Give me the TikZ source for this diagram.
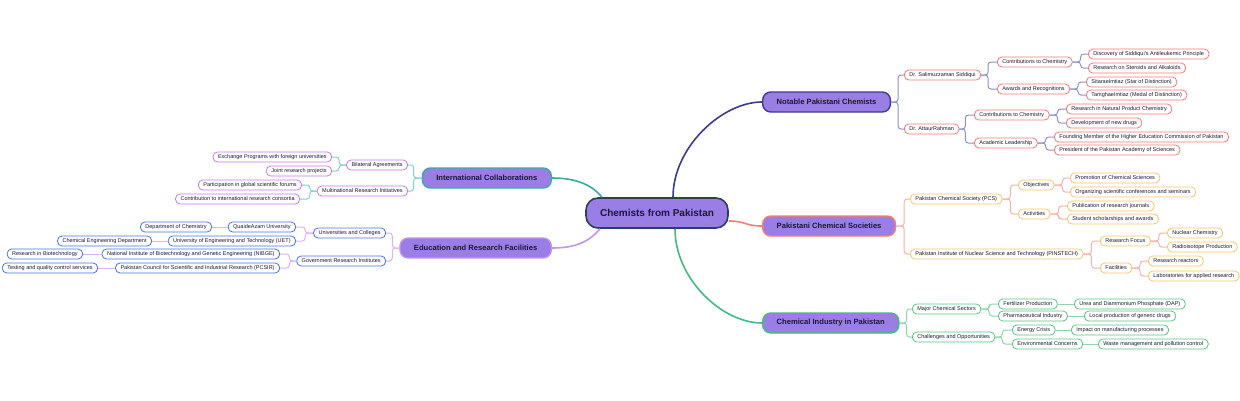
\documentclass[tikz,border=0pt]{standalone}
\usepackage{fontspec}
\setmainfont{Liberation Sans}
\definecolor{nodefill}{HTML}{9B7DE6}
\definecolor{rootline}{HTML}{2C3E5A}
\definecolor{textdark}{HTML}{1A1A2E}
\definecolor{navyline}{HTML}{3C3C8C}
\definecolor{navysoft}{HTML}{9090C8}
\definecolor{redleaf}{HTML}{F47A78}
\definecolor{salmonline}{HTML}{F77D73}
\definecolor{salmonsoft}{HTML}{F8B0A8}
\definecolor{yellowleaf}{HTML}{F9C56A}
\definecolor{greenline}{HTML}{44BB7F}
\definecolor{greensoft}{HTML}{8FD6AB}
\definecolor{greenleaf}{HTML}{5CC487}
\definecolor{tealline}{HTML}{38ABA5}
\definecolor{tealsoft}{HTML}{7FD3CB}
\definecolor{purpleleaf}{HTML}{C47AEE}
\definecolor{lavline}{HTML}{C595E6}
\definecolor{lavsoft}{HTML}{D9B4F2}
\definecolor{blueleaf}{HTML}{4C74E6}
\begin{document}
\begin{tikzpicture}[x=1pt,y=-1pt,
	root/.style={draw=rootline,fill=nodefill,line width=1.6pt,rounded corners=12pt,minimum height=30pt,inner xsep=14pt,font=\fontsize{10}{11}\selectfont\bfseries,text=textdark},
	topic/.style={draw=#1,fill=nodefill,line width=1.4pt,rounded corners=8pt,minimum height=20pt,inner xsep=14pt,font=\fontsize{7.6}{8.6}\selectfont\bfseries,text=textdark},
	leaf/.style={draw=#1,fill=white,line width=0.8pt,rounded corners=4.5pt,minimum height=10pt,inner xsep=5pt,inner ysep=1pt,font=\fontsize{5.5}{6.5}\selectfont,text=textdark},
	link/.style={draw=#1,line width=1pt,rounded corners=3pt},
	spoke/.style={draw=#1,line width=1.6pt}]
		\useasboundingbox (0,0) rectangle (1240,400);
		\node[root] (root) at (657,213) {Chemists from Pakistan};
		% right side
		\node[topic=navyline,anchor=west] (n1) at (762,102) {Notable Pakistani Chemists};
		\node[leaf=redleaf,anchor=west] (n1a) at (904,75) {Dr. Salimuzzaman Siddiqui};
		\node[leaf=redleaf,anchor=west] (n1a1) at (997,62) {Contributions to Chemistry};
		\node[leaf=redleaf,anchor=west] (n1a1a) at (1088,54) {Discovery of Siddiqui's Antileukemic Principle};
		\node[leaf=redleaf,anchor=west] (n1a1b) at (1088,68) {Research on Steroids and Alkaloids};
		\node[leaf=redleaf,anchor=west] (n1a2) at (997,89) {Awards and Recognitions};
		\node[leaf=redleaf,anchor=west] (n1a2a) at (1086,82) {SitaraeImtiaz (Star of Distinction)};
		\node[leaf=redleaf,anchor=west] (n1a2b) at (1086,95) {TamghaeImtiaz (Medal of Distinction)};
		\node[leaf=redleaf,anchor=west] (n1b) at (904,129) {Dr. AttaurRahman};
		\node[leaf=redleaf,anchor=west] (n1b1) at (974,115) {Contributions to Chemistry};
		\node[leaf=redleaf,anchor=west] (n1b1a) at (1066,109) {Research in Natural Product Chemistry};
		\node[leaf=redleaf,anchor=west] (n1b1b) at (1066,123) {Development of new drugs};
		\node[leaf=redleaf,anchor=west] (n1b2) at (974,143) {Academic Leadership};
		\node[leaf=redleaf,anchor=west] (n1b2a) at (1054,137) {Founding Member of the Higher Education Commission of Pakistan};
		\node[leaf=redleaf,anchor=west] (n1b2b) at (1054,150) {President of the Pakistan Academy of Sciences};
		\node[topic=salmonline,anchor=west] (n2) at (762,226) {Pakistani Chemical Societies};
		\node[leaf=yellowleaf,anchor=west] (n2a) at (910,199) {Pakistan Chemical Society (PCS)};
		\node[leaf=yellowleaf,anchor=west] (n2a1) at (1018,185) {Objectives};
		\node[leaf=yellowleaf,anchor=west] (n2a1a) at (1070,178) {Promotion of Chemical Sciences};
		\node[leaf=yellowleaf,anchor=west] (n2a1b) at (1070,192) {Organizing scientific conferences and seminars};
		\node[leaf=yellowleaf,anchor=west] (n2a2) at (1018,214) {Activities};
		\node[leaf=yellowleaf,anchor=west] (n2a2a) at (1067,206) {Publication of research journals};
		\node[leaf=yellowleaf,anchor=west] (n2a2b) at (1067,219) {Student scholarships and awards};
		\node[leaf=yellowleaf,anchor=west] (n2b) at (910,254) {Pakistan Institute of Nuclear Science and Technology (PINSTECH)};
		\node[leaf=yellowleaf,anchor=west] (n2b1) at (1100,241) {Research Focus};
		\node[leaf=yellowleaf,anchor=west] (n2b1a) at (1167,233) {Nuclear Chemistry};
		\node[leaf=yellowleaf,anchor=west] (n2b1b) at (1167,247) {Radioisotope Production};
		\node[leaf=yellowleaf,anchor=west] (n2b2) at (1100,268) {Facilities};
		\node[leaf=yellowleaf,anchor=west] (n2b2a) at (1148,261) {Research reactors};
		\node[leaf=yellowleaf,anchor=west] (n2b2b) at (1148,276) {Laboratories for applied research};
		\node[topic=greenline,anchor=west] (n3) at (762,323) {Chemical Industry in Pakistan};
		\node[leaf=greenleaf,anchor=west] (n3a) at (912,309) {Major Chemical Sectors};
		\node[leaf=greenleaf,anchor=west] (n3a1) at (998,304) {Fertilizer Production};
		\node[leaf=greenleaf,anchor=west] (n3a1a) at (1074,304) {Urea and Diammonium Phosphate (DAP)};
		\node[leaf=greenleaf,anchor=west] (n3a2) at (998,316) {Pharmaceutical Industry};
		\node[leaf=greenleaf,anchor=west] (n3a2a) at (1084,316) {Local production of generic drugs};
		\node[leaf=greenleaf,anchor=west] (n3b) at (912,337) {Challenges and Opportunities};
		\node[leaf=greenleaf,anchor=west] (n3b1) at (1012,330) {Energy Crisis};
		\node[leaf=greenleaf,anchor=west] (n3b1a) at (1071,330) {Impact on manufacturing processes};
		\node[leaf=greenleaf,anchor=west] (n3b2) at (1012,344) {Environmental Concerns};
		\node[leaf=greenleaf,anchor=west] (n3b2a) at (1098,344) {Waste management and pollution control};
		% left side
		\node[topic=tealline,anchor=east] (n4) at (552,178) {International Collaborations};
		\node[leaf=purpleleaf,anchor=east] (n4a) at (408,165) {Bilateral Agreements};
		\node[leaf=purpleleaf,anchor=east] (n4a1) at (332,157) {Exchange Programs with foreign universities};
		\node[leaf=purpleleaf,anchor=east] (n4a2) at (332,171) {Joint research projects};
		\node[leaf=purpleleaf,anchor=east] (n4b) at (408,191) {Multinational Research Initiatives};
		\node[leaf=purpleleaf,anchor=east] (n4b1) at (302,185) {Participation in global scientific forums};
		\node[leaf=purpleleaf,anchor=east] (n4b2) at (300,199) {Contribution to international research consortia};
		\node[topic=lavline,anchor=east] (n5) at (552,248) {Education and Research Facilities};
		\node[leaf=blueleaf,anchor=east] (n5a) at (386,233) {Universities and Colleges};
		\node[leaf=blueleaf,anchor=east] (n5a1) at (296,227) {QuaideAzam University};
		\node[leaf=blueleaf,anchor=east] (n5a1a) at (212,227) {Department of Chemistry};
		\node[leaf=blueleaf,anchor=east] (n5a2) at (296,241) {University of Engineering and Technology (UET)};
		\node[leaf=blueleaf,anchor=east] (n5a2a) at (152,241) {Chemical Engineering Department};
		\node[leaf=blueleaf,anchor=east] (n5b) at (386,261) {Government Research Institutes};
		\node[leaf=blueleaf,anchor=east] (n5b1) at (280,254) {National Institute of Biotechnology and Genetic Engineering (NIBGE)};
		\node[leaf=blueleaf,anchor=east] (n5b1a) at (83,254) {Research in Biotechnology};
		\node[leaf=blueleaf,anchor=east] (n5b2) at (280,268) {Pakistan Council for Scientific and Industrial Research (PCSIR)};
		\node[leaf=blueleaf,anchor=east] (n5b2a) at (98,268) {Testing and quality control services};
		% spokes
		\draw[spoke=navyline] ([xshift=16pt]root.north) .. controls +(0,-50) and +(-40,0) .. (n1.west);
		\draw[spoke=salmonline] ([yshift=-8pt]root.east) .. controls +(17,0) and +(-17,0) .. (n2.west);
		\draw[spoke=greenline] ([xshift=18pt]root.south) .. controls +(0,50) and +(-40,0) .. (n3.west);
		\draw[spoke=tealline] ([xshift=-55pt]root.north) .. controls +(-10,-12) and +(25,0) .. (n4.east);
		\draw[spoke=lavline] ([xshift=-57pt]root.south) .. controls +(-10,12) and +(25,0) .. (n5.east);
		% branches
		\draw[link=navysoft] (n1.east) -- ++(7,0) |- (n1a.west);
		\draw[link=navysoft] (n1.east) -- ++(7,0) |- (n1b.west);
		\draw[link=navysoft] (n1a.east) -- ++(7,0) |- (n1a1.west);
		\draw[link=navysoft] (n1a.east) -- ++(7,0) |- (n1a2.west);
		\draw[link=navysoft] (n1a1.east) -- ++(8,0) |- (n1a1a.west);
		\draw[link=navysoft] (n1a1.east) -- ++(8,0) |- (n1a1b.west);
		\draw[link=navysoft] (n1a2.east) -- ++(8,0) |- (n1a2a.west);
		\draw[link=navysoft] (n1a2.east) -- ++(8,0) |- (n1a2b.west);
		\draw[link=navysoft] (n1b.east) -- ++(6,0) |- (n1b1.west);
		\draw[link=navysoft] (n1b.east) -- ++(6,0) |- (n1b2.west);
		\draw[link=navysoft] (n1b1.east) -- ++(8,0) |- (n1b1a.west);
		\draw[link=navysoft] (n1b1.east) -- ++(8,0) |- (n1b1b.west);
		\draw[link=navysoft] (n1b2.east) -- ++(8,0) |- (n1b2a.west);
		\draw[link=navysoft] (n1b2.east) -- ++(8,0) |- (n1b2b.west);
		\draw[link=salmonsoft] (n2.east) -- ++(8,0) |- (n2a.west);
		\draw[link=salmonsoft] (n2.east) -- ++(8,0) |- (n2b.west);
		\draw[link=salmonsoft] (n2a.east) -- ++(8,0) |- (n2a1.west);
		\draw[link=salmonsoft] (n2a.east) -- ++(8,0) |- (n2a2.west);
		\draw[link=salmonsoft] (n2a1.east) -- ++(8,0) |- (n2a1a.west);
		\draw[link=salmonsoft] (n2a1.east) -- ++(8,0) |- (n2a1b.west);
		\draw[link=salmonsoft] (n2a2.east) -- ++(8,0) |- (n2a2a.west);
		\draw[link=salmonsoft] (n2a2.east) -- ++(8,0) |- (n2a2b.west);
		\draw[link=salmonsoft] (n2b.east) -- ++(8,0) |- (n2b1.west);
		\draw[link=salmonsoft] (n2b.east) -- ++(8,0) |- (n2b2.west);
		\draw[link=salmonsoft] (n2b1.east) -- ++(8,0) |- (n2b1a.west);
		\draw[link=salmonsoft] (n2b1.east) -- ++(8,0) |- (n2b1b.west);
		\draw[link=salmonsoft] (n2b2.east) -- ++(8,0) |- (n2b2a.west);
		\draw[link=salmonsoft] (n2b2.east) -- ++(8,0) |- (n2b2b.west);
		\draw[link=greensoft] (n3.east) -- ++(7,0) |- (n3a.west);
		\draw[link=greensoft] (n3.east) -- ++(7,0) |- (n3b.west);
		\draw[link=greensoft] (n3a.east) -- ++(8,0) |- (n3a1.west);
		\draw[link=greensoft] (n3a.east) -- ++(8,0) |- (n3a2.west);
		\draw[link=greensoft] (n3a1.east) -- (n3a1a.west);
		\draw[link=greensoft] (n3a2.east) -- (n3a2a.west);
		\draw[link=greensoft] (n3b.east) -- ++(7,0) |- (n3b1.west);
		\draw[link=greensoft] (n3b.east) -- ++(7,0) |- (n3b2.west);
		\draw[link=greensoft] (n3b1.east) -- (n3b1a.west);
		\draw[link=greensoft] (n3b2.east) -- (n3b2a.west);
		\draw[link=tealsoft] (n4.west) -- ++(-8,0) |- (n4a.east);
		\draw[link=tealsoft] (n4.west) -- ++(-8,0) |- (n4b.east);
		\draw[link=tealsoft] (n4a.west) -- ++(-7,0) |- (n4a1.east);
		\draw[link=tealsoft] (n4a.west) -- ++(-7,0) |- (n4a2.east);
		\draw[link=tealsoft] (n4b.west) -- ++(-7,0) |- (n4b1.east);
		\draw[link=tealsoft] (n4b.west) -- ++(-7,0) |- (n4b2.east);
		\draw[link=lavsoft] (n5.west) -- ++(-7,0) |- (n5a.east);
		\draw[link=lavsoft] (n5.west) -- ++(-7,0) |- (n5b.east);
		\draw[link=lavsoft] (n5a.west) -- ++(-8,0) |- (n5a1.east);
		\draw[link=lavsoft] (n5a.west) -- ++(-8,0) |- (n5a2.east);
		\draw[link=lavsoft] (n5a1.west) -- (n5a1a.east);
		\draw[link=lavsoft] (n5a2.west) -- (n5a2a.east);
		\draw[link=lavsoft] (n5b.west) -- ++(-7,0) |- (n5b1.east);
		\draw[link=lavsoft] (n5b.west) -- ++(-7,0) |- (n5b2.east);
		\draw[link=lavsoft] (n5b1.west) -- (n5b1a.east);
		\draw[link=lavsoft] (n5b2.west) -- (n5b2a.east);
\end{tikzpicture}
\end{document}
